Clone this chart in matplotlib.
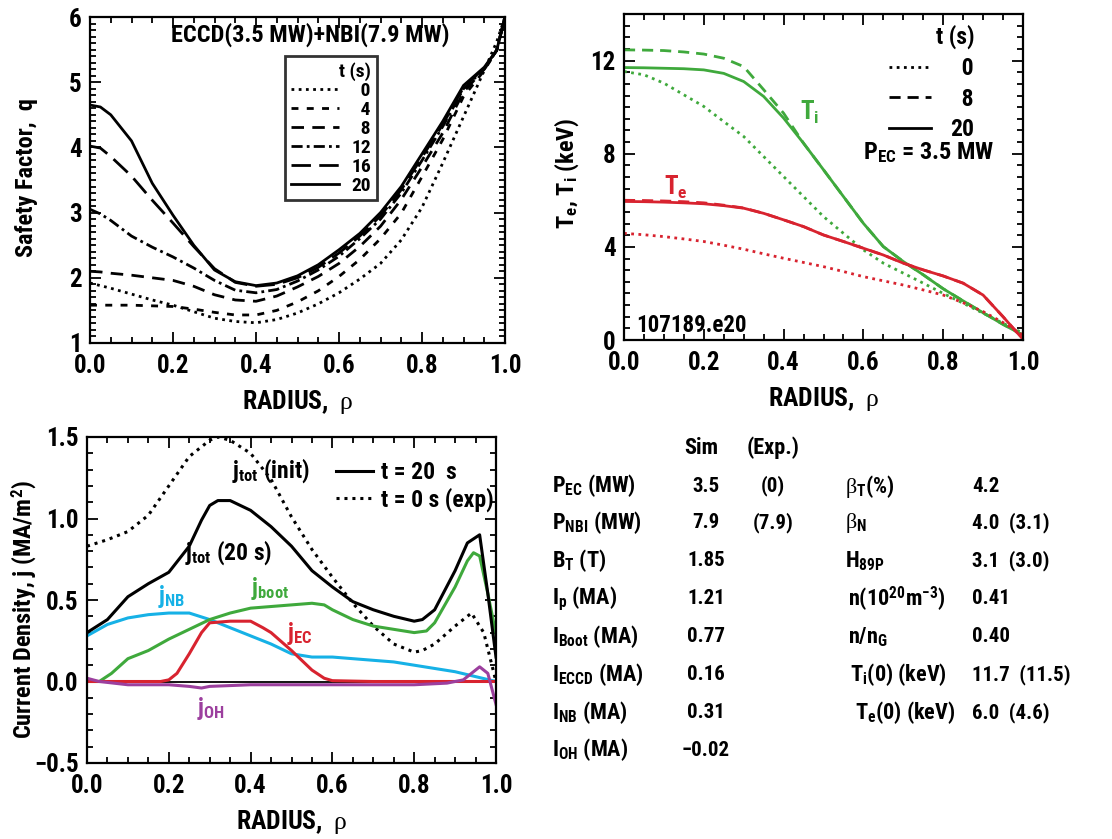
import matplotlib
matplotlib.use("Agg")
import matplotlib.pyplot as plt
from matplotlib import font_manager
from matplotlib.ticker import MultipleLocator
from matplotlib.lines import Line2D

# ---------------- data ----------------
rho_q = [0, 0.025, 0.05, 0.1, 0.15, 0.2, 0.25, 0.3, 0.35, 0.4, 0.45, 0.5, 0.55, 0.6, 0.65,
         0.7, 0.75, 0.8, 0.85, 0.9, 0.95, 0.98, 1.0]
q_t0 = [1.92, 1.88, 1.84, 1.75, 1.66, 1.58, 1.48, 1.38, 1.33, 1.31, 1.36, 1.46, 1.6, 1.77,
        1.98, 2.22, 2.58, 3.08, 3.76, 4.47, 5.18, 5.62, 6.0]
q_t4 = [1.58, 1.58, 1.58, 1.58, 1.57, 1.56, 1.52, 1.47, 1.43, 1.43, 1.5, 1.63, 1.8, 2.02,
        2.28, 2.6, 2.99, 3.55, 4.12, 4.78, 5.18, 5.49, 6.0]
q_t8 = [2.1, 2.09, 2.07, 2.04, 2.0, 1.96, 1.87, 1.74, 1.66, 1.64, 1.72, 1.86, 2.02, 2.22,
        2.48, 2.79, 3.2, 3.7, 4.22, 4.85, 5.2, 5.49, 6.0]
q_t12 = [3.05, 2.98, 2.88, 2.64, 2.47, 2.32, 2.15, 1.96, 1.81, 1.77, 1.82, 1.95, 2.12, 2.33,
         2.6, 2.9, 3.3, 3.8, 4.32, 4.9, 5.2, 5.49, 6.0]
q_t16 = [4.02, 3.99, 3.86, 3.56, 3.19, 2.84, 2.48, 2.14, 1.93, 1.87, 1.9, 2.0, 2.16, 2.38,
         2.64, 2.95, 3.35, 3.85, 4.35, 4.92, 5.22, 5.49, 6.0]
q_t20 = [4.65, 4.62, 4.5, 4.1, 3.45, 2.96, 2.5, 2.12, 1.94, 1.88, 1.92, 2.03, 2.2, 2.43,
         2.68, 3.0, 3.4, 3.9, 4.4, 4.95, 5.23, 5.49, 6.0]
q_times = ["0", "4", "8", "12", "16", "20"]

rho_T = [0, 0.05, 0.1, 0.15, 0.2, 0.25, 0.3, 0.35, 0.4, 0.45, 0.5, 0.55, 0.6, 0.65, 0.7,
         0.75, 0.8, 0.85, 0.9, 0.95, 1.0]
Ti_t0 = [11.53, 11.39, 11.03, 10.53, 10.03, 9.38, 8.74, 7.88, 7.02, 6.16, 5.3, 4.58, 3.87,
         3.3, 2.87, 2.44, 2.0, 1.58, 1.15, 0.72, 0.29]
Ti_t8 = [12.46, 12.45, 12.43, 12.37, 12.28, 12.1, 11.74, 10.75, 9.74, 8.45, 7.31, 6.16,
         5.01, 4.01, 3.37, 2.8, 2.2, 1.68, 1.17, 0.67, 0.21]
Ti_t20 = [11.7, 11.69, 11.67, 11.65, 11.6, 11.45, 11.1, 10.46, 9.53, 8.45, 7.31, 6.16,
          5.01, 4.01, 3.37, 2.8, 2.2, 1.68, 1.17, 0.67, 0.21]
Te_t0 = [4.58, 4.52, 4.44, 4.34, 4.23, 4.07, 3.9, 3.7, 3.51, 3.33, 3.15, 2.94, 2.72, 2.54,
         2.36, 2.15, 1.93, 1.6, 1.22, 0.75, 0.21]
Te_t8 = [6.0, 5.99, 5.97, 5.94, 5.89, 5.79, 5.67, 5.44, 5.16, 4.87, 4.51, 4.23, 3.94, 3.65,
         3.3, 3.01, 2.75, 2.44, 1.93, 1.0, 0.03]
Te_t20 = [5.95, 5.94, 5.92, 5.89, 5.85, 5.77, 5.66, 5.44, 5.16, 4.87, 4.51, 4.23, 3.94,
          3.65, 3.3, 3.01, 2.75, 2.44, 1.93, 1.0, 0.03]
T_times = ["0", "8", "20"]

rho_jtot = [0, 0.05, 0.1, 0.15, 0.2, 0.25, 0.28, 0.3, 0.32, 0.35, 0.4, 0.45, 0.5, 0.55,
            0.6, 0.65, 0.7, 0.75, 0.8, 0.82, 0.85, 0.9, 0.93, 0.96, 0.98, 1.0]
j_tot20 = [0.30, 0.38, 0.52, 0.60, 0.67, 0.83, 0.99, 1.08, 1.11, 1.11, 1.05, 0.95, 0.83,
           0.68, 0.58, 0.49, 0.44, 0.40, 0.37, 0.38, 0.44, 0.68, 0.85, 0.90, 0.54, 0.15]
rho_init = [0, 0.05, 0.1, 0.15, 0.2, 0.25, 0.3, 0.32, 0.35, 0.4, 0.45, 0.5, 0.55, 0.6,
            0.65, 0.7, 0.75, 0.8, 0.82, 0.85, 0.9, 0.94, 0.97, 1.0]
j_init = [0.83, 0.87, 0.92, 1.02, 1.20, 1.38, 1.48, 1.5, 1.48, 1.40, 1.24, 1.01, 0.81,
          0.64, 0.48, 0.34, 0.23, 0.18, 0.19, 0.23, 0.34, 0.42, 0.30, 0.0]
rho_boot = [0, 0.03, 0.06, 0.1, 0.15, 0.2, 0.25, 0.3, 0.35, 0.4, 0.45, 0.5, 0.55, 0.58,
            0.6, 0.65, 0.7, 0.75, 0.8, 0.83, 0.85, 0.9, 0.93, 0.945, 0.96, 0.98, 1.0]
j_boot = [0.0, 0.0, 0.05, 0.14, 0.19, 0.26, 0.32, 0.38, 0.42, 0.45, 0.46, 0.47, 0.48,
          0.47, 0.44, 0.38, 0.34, 0.32, 0.30, 0.31, 0.36, 0.58, 0.74, 0.79, 0.77, 0.54, 0.29]
rho_nb = [0, 0.05, 0.1, 0.15, 0.2, 0.25, 0.3, 0.35, 0.4, 0.45, 0.5, 0.55, 0.6, 0.65, 0.7,
          0.75, 0.8, 0.85, 0.9, 0.95, 1.0]
j_nb = [0.28, 0.35, 0.39, 0.41, 0.42, 0.42, 0.38, 0.33, 0.28, 0.23, 0.17, 0.15, 0.15,
        0.14, 0.13, 0.12, 0.10, 0.08, 0.06, 0.03, 0.0]
rho_ec = [0, 0.1, 0.18, 0.2, 0.22, 0.25, 0.28, 0.3, 0.35, 0.4, 0.43, 0.45, 0.5, 0.55,
          0.58, 0.6, 0.7, 0.8, 0.9, 1.0]
j_ec = [0, 0, 0, 0.01, 0.05, 0.17, 0.30, 0.36, 0.37, 0.37, 0.33, 0.30, 0.19, 0.07, 0.02,
        0.005, 0, 0, 0, 0]
rho_oh = [0, 0.03, 0.1, 0.2, 0.25, 0.28, 0.3, 0.4, 0.6, 0.8, 0.88, 0.92, 0.96, 0.98, 1.0]
j_oh = [0.02, 0.0, -0.02, -0.02, -0.03, -0.04, -0.03, -0.02, -0.02, -0.02, -0.01, 0.01,
        0.09, 0.05, -0.14]

tab_left_labels = [r"$\mathrm{P_{EC}}$ (MW)", r"$\mathrm{P_{NBI}}$ (MW)", r"$\mathrm{B_T}$ (T)",
                   r"$\mathrm{I_p}$ (MA)", r"$\mathrm{I_{Boot}}$ (MA)", r"$\mathrm{I_{ECCD}}$ (MA)",
                   r"$\mathrm{I_{NB}}$ (MA)", r"$\mathrm{I_{OH}}$ (MA)"]
tab_sim = ["3.5", "7.9", "1.85", "1.21", "0.77", "0.16", "0.31", "\u22120.02"]
tab_exp = ["(0)", "(7.9)", "", "", "", "", "", ""]
tab_right_labels = [r"$\beta_\mathrm{T}$(%)", r"$\beta_\mathrm{N}$", r"$\mathrm{H_{89P}}$",
                    r"n(10$^\mathrm{20}$m$^\mathrm{-3}$)", r"n/n$_\mathrm{G}$",
                    r"$\mathrm{T_i}$(0) (keV)", r"$\mathrm{T_e}$(0) (keV)"]
tab_right_vals = ["4.2", "4.0  (3.1)", "3.1  (3.0)", "0.41", "0.40", "11.7  (11.5)", "6.0  (4.6)"]

# ---------------- style ----------------
names = {f.name for f in font_manager.fontManager.ttflist}
FONT = "Liberation Sans"
for cand in ["Liberation Sans Narrow", "Roboto Condensed", "Open Sans Condensed"]:
    if cand in names:
        FONT = cand
        break
plt.rcParams["font.family"] = [FONT, "DejaVu Sans"]
plt.rcParams["font.weight"] = "bold"
plt.rcParams["mathtext.fontset"] = "custom"
plt.rcParams["mathtext.rm"] = FONT + ":bold"
plt.rcParams["mathtext.bf"] = FONT + ":bold"
plt.rcParams["mathtext.it"] = "Liberation Serif:weight=normal:style=normal"
plt.rcParams["mathtext.sf"] = FONT + ":bold"
plt.rcParams["axes.linewidth"] = 1.6

GREEN = "#3fa93c"
RED = "#d8232f"
CYAN = "#16b1e6"
PURPLE = "#9c3f9e"

fig = plt.figure(figsize=(11.12, 8.39), dpi=100)
W, H = 1112, 839


def make_ax(x0, y0, x1, y1):
    return fig.add_axes([x0 / W, 1 - y1 / H, (x1 - x0) / W, (y1 - y0) / H])


def style(ax):
    ax.tick_params(which="both", direction="in", top=True, right=True,
                   labelsize=18, width=1.3, pad=6)
    ax.tick_params(axis="x", which="both", pad=8)
    ax.tick_params(which="major", length=8)
    ax.tick_params(which="minor", length=4)
    for t in ax.get_xticklabels() + ax.get_yticklabels():
        t.set_fontweight("bold")
    ax.xaxis.set_major_locator(MultipleLocator(0.2))
    ax.xaxis.set_minor_locator(MultipleLocator(0.05))
    ax.set_xlim(0, 1)
    ax.set_xlabel(r"RADIUS,  $\rho$", fontsize=18.5, fontweight="bold", labelpad=7)


# ---------- top-left: q ----------
ax1 = make_ax(90, 17, 505, 343)
q_styles = [(0, (1, 1.6)), (0, (2.5, 3)), (0, (4.5, 3)), (0, (4, 1.5, 1, 1.5)),
            (0, (7, 3)), "-"]
for qv, ls, lab in zip([q_t0, q_t4, q_t8, q_t12, q_t16, q_t20], q_styles, q_times):
    ax1.plot(rho_q, qv, color="black", lw=2.0, ls=ls, label="\u2007" * (2 - len(lab)) + lab)
ax1.set_ylim(1, 6)
ax1.yaxis.set_major_locator(MultipleLocator(1))
ax1.yaxis.set_minor_locator(MultipleLocator(0.1))
style(ax1)
ax1.set_ylabel("Safety Factor,  q", fontsize=17.5, fontweight="bold")
ax1.yaxis.set_label_coords(-0.125, 0.506)
ax1.text(0.53, 0.945, "ECCD(3.5 MW)+NBI(7.9 MW)", transform=ax1.transAxes, ha="center",
         va="center", fontsize=17.5, fontweight="bold")
leg1 = ax1.legend(loc="upper left", bbox_to_anchor=(0.47, 0.88), title="t (s)",
                  fontsize=14, title_fontsize=14, handlelength=2.5, handletextpad=0.6,
                  labelspacing=0.05, borderpad=0.3, borderaxespad=0, frameon=True,
                  fancybox=False, alignment="right")
leg1.get_frame().set_edgecolor("black")
leg1.get_frame().set_linewidth(2.0)
for t in leg1.get_texts():
    t.set_fontweight("bold")
leg1.get_title().set_fontweight("bold")

# ---------- top-right: Te, Ti ----------
ax2 = make_ax(624, 14, 1023, 340)
ax2.plot(rho_T, Ti_t0, color=GREEN, lw=2.0, ls=(0, (1, 1.6)))
ax2.plot(rho_T, Ti_t8, color=GREEN, lw=2.0, ls=(0, (4, 2.5)))
ax2.plot(rho_T, Ti_t20, color=GREEN, lw=2.0, ls="-")
ax2.plot(rho_T, Te_t0, color=RED, lw=2.0, ls=(0, (1, 1.6)))
ax2.plot(rho_T, Te_t8, color=RED, lw=2.0, ls=(0, (4, 2.5)))
ax2.plot(rho_T, Te_t20, color=RED, lw=2.0, ls="-")
ax2.set_ylim(0, 14)
ax2.yaxis.set_major_locator(MultipleLocator(4))
ax2.yaxis.set_minor_locator(MultipleLocator(0.5))
style(ax2)
ax2.set_ylabel(r"$\mathrm{T_e}$, $\mathrm{T_i}$ (keV)", fontsize=17.5, fontweight="bold")
ax2.yaxis.set_label_coords(-0.108, 0.512)
handles2 = [Line2D([], [], color="black", lw=2.0, ls=s)
            for s in [(0, (1, 1.6)), (0, (4, 2.5)), "-"]]
leg2 = ax2.legend(handles2, ["\u2007" * (2 - len(l)) + l for l in T_times],
                  loc="upper left", bbox_to_anchor=(0.64, 0.995), title="t (s)",
                  fontsize=17, title_fontsize=17, handlelength=1.8, handletextpad=0.8,
                  labelspacing=0.32, frameon=False, alignment="right", borderaxespad=0)
for t in leg2.get_texts():
    t.set_fontweight("bold")
leg2.get_title().set_fontweight("bold")
ax2.text(0.60, 7.75, r"$\mathrm{P_{EC}}$ = 3.5 MW", fontsize=17.5, fontweight="bold")
ax2.text(0.44, 9.45, r"$\mathrm{T_i}$", color=GREEN, fontsize=18, fontweight="bold")
ax2.text(0.10, 6.25, r"$\mathrm{T_e}$", color=RED, fontsize=18, fontweight="bold")
ax2.text(0.03, 0.35, "107189.e20", fontsize=16.5, fontweight="bold")

# ---------- bottom-left: current density ----------
ax3 = make_ax(87, 437, 496, 763)
ax3.axhline(0, color="black", lw=1.3)
ax3.plot(rho_init, j_init, color="black", lw=2.2, ls=(0, (1, 1.6)), label="t = 0 s (exp)")
ax3.plot(rho_nb, j_nb, color=CYAN, lw=2.2)
ax3.plot(rho_boot, j_boot, color=GREEN, lw=2.2)
ax3.plot(rho_ec, j_ec, color=RED, lw=2.2)
ax3.plot(rho_oh, j_oh, color=PURPLE, lw=2.2)
ax3.plot(rho_jtot, j_tot20, color="black", lw=2.2, label="t = 20  s")
ax3.set_ylim(-0.5, 1.5)
ax3.yaxis.set_major_locator(MultipleLocator(0.5))
ax3.yaxis.set_minor_locator(MultipleLocator(0.1))
style(ax3)
ax3.set_ylabel(r"Current Density, j (MA/m$^\mathrm{2}$)", fontsize=17.5, fontweight="bold")
ax3.yaxis.set_label_coords(-0.12, 0.472)
h, l = ax3.get_legend_handles_labels()
leg3 = ax3.legend(h[::-1], l[::-1], loc="upper left", bbox_to_anchor=(0.585, 0.955),
                  fontsize=17, handlelength=1.6, handletextpad=0.3, labelspacing=0.15,
                  frameon=False, borderaxespad=0)
for t in leg3.get_texts():
    t.set_fontweight("bold")
ax3.text(0.355, 1.25, r"$\mathrm{j_{tot}}$ (init)", fontsize=17, fontweight="bold")
ax3.text(0.24, 0.745, r"$\mathrm{j_{tot}}$ (20 s)", fontsize=17, fontweight="bold")
ax3.text(0.174, 0.48, r"$\mathrm{j_{NB}}$", fontsize=17, color=CYAN, fontweight="bold")
ax3.text(0.40, 0.53, r"$\mathrm{j_{boot}}$", fontsize=17, color=GREEN, fontweight="bold")
ax3.text(0.49, 0.255, r"$\mathrm{j_{EC}}$", fontsize=17, color=RED, fontweight="bold")
ax3.text(0.27, -0.205, r"$\mathrm{j_{OH}}$", fontsize=17, color=PURPLE, fontweight="bold")

# ---------- table ----------
FS_LAB = 16
FS_VAL = 15


def ftxt(x, y, s, ha="left", fs=FS_LAB):
    fig.text(x / W, 1 - y / H, s, ha=ha, va="center", fontsize=fs, fontweight="bold")


ftxt(684, 448, "Sim")
ftxt(747, 448, "(Exp.)")
row_y = [486, 523, 561, 599, 637, 675, 713, 750]
for y, lab, s, e in zip(row_y, tab_left_labels, tab_sim, tab_exp):
    ftxt(552, y, lab)
    ftxt(706, y, s, ha="center", fs=FS_VAL)
    if e:
        ftxt(773, y, e, ha="center", fs=FS_VAL)
right_x = [845, 845, 845, 848, 848, 850, 855]
for y, x, lab, v in zip(row_y[:7], right_x, tab_right_labels, tab_right_vals):
    ftxt(x, y, lab)
    ftxt(972, y, v, fs=FS_VAL)

fig.savefig("out.png", dpi=100)
